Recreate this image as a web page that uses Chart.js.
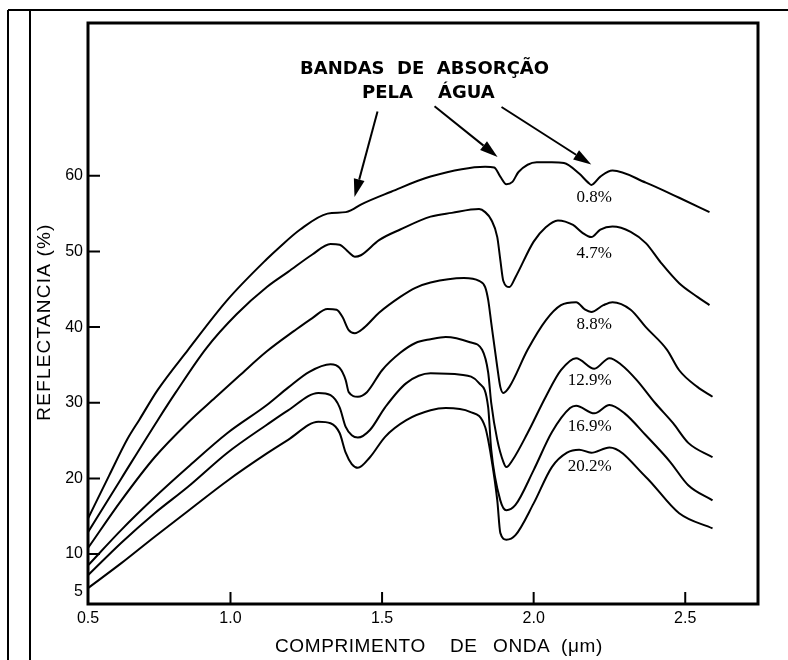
<!DOCTYPE html>
<html>
<head>
<meta charset="utf-8">
<script src="https://cdn.jsdelivr.net/npm/chart.js@4.4.1/dist/chart.umd.min.js"></script>
<style>
  html, body { margin: 0; padding: 0; background: #fff; }
  canvas { display: block; }
</style>
</head>
<body>
<canvas id="chart" width="788" height="660"></canvas>
<script>
// Soil reflectance spectra (0.5–2.6 µm) at six moisture contents.

const moisture = ['0.8%', '4.7%', '8.8%', '12.9%', '16.9%', '20.2%'];

// wavelength (µm) and reflectance (%) for each moisture content
const wl08 = [0.53, 0.60, 0.66, 0.70, 0.76, 0.86, 0.99, 1.12, 1.16, 1.23, 1.32, 1.38, 1.40, 1.43, 1.53, 1.66, 1.84, 1.87, 1.89, 1.91, 1.93, 1.95, 2.01, 2.06, 2.10, 2.15, 2.18, 2.19, 2.22, 2.26, 2.37, 2.48, 2.58];
const r08  = [14.7, 20.4, 25.2, 27.8, 31.7, 37.0, 43.6, 49.0, 50.5, 52.9, 55.0, 55.2, 55.5, 56.2, 57.9, 59.9, 61.2, 61.1, 59.9, 58.9, 59.2, 60.5, 61.8, 61.8, 61.7, 60.3, 59.1, 58.8, 59.9, 60.7, 59.1, 57.1, 55.2];

const wl47 = [0.53, 0.64, 0.76, 0.82, 0.92, 1.02, 1.12, 1.19, 1.27, 1.33, 1.36, 1.39, 1.41, 1.43, 1.49, 1.56, 1.66, 1.73, 1.82, 1.84, 1.86, 1.88, 1.89, 1.90, 1.92, 1.94, 2.00, 2.04, 2.08, 2.13, 2.16, 2.19, 2.22, 2.26, 2.32, 2.37, 2.42, 2.48, 2.54, 2.58];
const r47  = [12.9, 20.0, 27.7, 31.4, 37.2, 41.7, 45.3, 47.3, 49.6, 51.0, 50.9, 49.9, 49.3, 49.5, 51.5, 52.9, 54.6, 55.1, 55.6, 55.2, 54.2, 51.9, 48.9, 46.1, 45.3, 46.6, 51.3, 53.2, 54.1, 53.5, 52.5, 51.9, 52.9, 53.3, 52.6, 51.1, 48.5, 45.8, 44.0, 42.9];

const wl88 = [0.53, 0.64, 0.75, 0.86, 0.95, 1.03, 1.12, 1.21, 1.27, 1.32, 1.35, 1.37, 1.39, 1.41, 1.44, 1.49, 1.56, 1.61, 1.66, 1.77, 1.82, 1.84, 1.85, 1.86, 1.88, 1.89, 1.90, 1.92, 1.98, 2.04, 2.09, 2.14, 2.17, 2.19, 2.23, 2.26, 2.32, 2.37, 2.44, 2.48, 2.54, 2.59];
const r88  = [10.8, 17.1, 22.8, 27.4, 30.7, 33.6, 36.8, 39.5, 41.2, 42.4, 42.3, 41.3, 39.6, 39.2, 39.9, 41.9, 44.0, 45.2, 45.9, 46.5, 46.1, 45.3, 43.6, 40.6, 34.7, 32.1, 31.3, 32.1, 37.0, 40.9, 42.9, 43.3, 42.3, 42.0, 42.9, 43.3, 42.3, 40.0, 37.0, 34.3, 32.1, 30.8];

const wl129 = [0.53, 0.64, 0.75, 0.86, 0.99, 1.12, 1.19, 1.26, 1.33, 1.36, 1.38, 1.39, 1.42, 1.45, 1.50, 1.56, 1.61, 1.66, 1.71, 1.79, 1.83, 1.85, 1.86, 1.88, 1.90, 1.91, 1.93, 1.98, 2.04, 2.09, 2.14, 2.20, 2.25, 2.29, 2.34, 2.40, 2.46, 2.51, 2.59];
const r129  = [8.5, 13.2, 17.5, 21.5, 26.0, 29.7, 32.0, 34.1, 35.1, 34.6, 33.0, 31.4, 30.8, 31.4, 34.3, 36.6, 37.9, 38.4, 38.7, 38.0, 37.0, 34.0, 30.0, 25.1, 22.2, 21.5, 22.4, 26.0, 30.8, 34.3, 35.9, 34.5, 35.9, 35.0, 33.0, 30.0, 27.3, 24.7, 22.8];

const wl169 = [0.53, 0.64, 0.75, 0.86, 0.99, 1.12, 1.19, 1.29, 1.33, 1.36, 1.38, 1.40, 1.42, 1.46, 1.51, 1.58, 1.66, 1.76, 1.82, 1.85, 1.86, 1.89, 1.91, 1.94, 2.00, 2.06, 2.12, 2.14, 2.20, 2.25, 2.30, 2.37, 2.45, 2.51, 2.59];
const r169  = [7.2, 11.5, 15.4, 18.9, 23.4, 27.1, 29.0, 31.3, 31.0, 29.4, 26.8, 25.7, 25.4, 26.4, 29.4, 32.6, 33.9, 33.7, 32.6, 29.4, 23.8, 17.1, 15.8, 16.5, 21.1, 26.1, 29.3, 29.6, 28.6, 29.7, 28.6, 25.7, 22.2, 19.1, 17.1];

const wl202 = [0.53, 0.64, 0.75, 0.86, 0.99, 1.12, 1.19, 1.29, 1.33, 1.36, 1.38, 1.40, 1.42, 1.46, 1.51, 1.58, 1.66, 1.71, 1.79, 1.84, 1.86, 1.88, 1.89, 1.91, 1.94, 2.00, 2.06, 2.11, 2.15, 2.19, 2.25, 2.37, 2.48, 2.59];
const r202  = [5.5, 8.8, 12.3, 15.7, 19.7, 23.3, 25.1, 27.5, 27.3, 26.0, 23.4, 21.9, 21.4, 22.8, 25.5, 27.7, 29.0, 29.3, 28.8, 26.8, 22.8, 17.1, 12.8, 11.9, 12.5, 16.7, 21.5, 23.4, 23.8, 23.4, 24.1, 20.2, 15.4, 13.4];

const wavelengths = [wl08, wl47, wl88, wl129, wl169, wl202];
const reflectance = [r08, r47, r88, r129, r169, r202];

// axis ticks; the first entry of each marks the axis origin corner
const xTicks = [0.5, 1.0, 1.5, 2.0, 2.5];
const yTicks = [5, 10, 20, 30, 40, 50, 60];

// where each moisture label sits (wavelength, reflectance)
const labelWl = [2.20, 2.20, 2.20, 2.185, 2.185, 2.185];
const labelR  = [57.1, 49.7, 40.4, 32.9, 26.9, 21.6];

// arrows pointing at the water absorption bands (tail -> tip, in data units)
const arrows = [
  { from: [1.485, 68.5], to: [1.409, 57.2] },
  { from: [1.673, 69.2], to: [1.881, 62.5] },
  { from: [1.894, 69.1], to: [2.190, 61.5] }
];

const datasets = moisture.map((m, k) => ({
  label: m,
  data: wavelengths[k].map((w, i) => ({ x: w, y: reflectance[k][i] })),
  borderColor: '#000',
  borderWidth: 2,
  pointRadius: 0,
  fill: false,
  cubicInterpolationMode: 'monotone'
}));

function drawArrow(ctx, x1, y1, x2, y2) {
  const a = Math.atan2(y2 - y1, x2 - x1);
  const L = 18, W = 5.5;
  const bx = x2 - L * Math.cos(a), by = y2 - L * Math.sin(a);
  ctx.lineWidth = 2;
  ctx.beginPath();
  ctx.moveTo(x1, y1);
  ctx.lineTo(bx, by);
  ctx.stroke();
  ctx.beginPath();
  ctx.moveTo(x2, y2);
  ctx.lineTo(bx + W * Math.sin(a), by - W * Math.cos(a));
  ctx.lineTo(bx - W * Math.sin(a), by + W * Math.cos(a));
  ctx.closePath();
  ctx.fill();
}

const decor = {
  id: 'decor',
  afterDraw(chart) {
    const { ctx, chartArea: a, scales: { x, y } } = chart;
    ctx.save();
    ctx.strokeStyle = '#000';
    ctx.fillStyle = '#000';

    // page rules
    ctx.lineWidth = 2;
    ctx.beginPath();
    ctx.moveTo(8, 10); ctx.lineTo(788, 10);
    ctx.moveTo(8, 10); ctx.lineTo(8, 660);
    ctx.moveTo(30, 10); ctx.lineTo(30, 660);
    ctx.stroke();

    // plot frame
    ctx.lineWidth = 3;
    ctx.strokeRect(a.left, a.top, a.right - a.left, a.bottom - a.top);

    // inward tick marks (skip the origin corner)
    ctx.lineWidth = 2;
    ctx.beginPath();
    x.ticks.forEach((t, i) => {
      if (i === 0) return;
      const px = x.getPixelForValue(t.value);
      ctx.moveTo(px, a.bottom);
      ctx.lineTo(px, a.bottom - 12);
    });
    y.ticks.forEach((t, i) => {
      if (i === 0) return;
      const py = y.getPixelForValue(t.value);
      ctx.moveTo(a.left, py);
      ctx.lineTo(a.left + 12, py);
    });
    ctx.stroke();

    // axis titles
    ctx.font = '19px "Liberation Sans"';
    ctx.textBaseline = 'alphabetic';
    ctx.textAlign = 'left';
    ctx.letterSpacing = '0.6px';
    ctx.fillText('COMPRIMENTO', 275, 652);
    ctx.fillText('DE', 450, 652);
    ctx.fillText('ONDA', 493, 652);
    ctx.fillText('(\u03bcm)', 561, 652);
    ctx.save();
    ctx.translate(49.5, 322);
    ctx.rotate(-Math.PI / 2);
    ctx.textAlign = 'center';
    ctx.letterSpacing = '1.2px';
    ctx.fillText('REFLECTANCIA (%)', 0, 0);
    ctx.restore();
    ctx.letterSpacing = '0px';

    // moisture labels
    ctx.font = '17px "Liberation Serif"';
    ctx.textAlign = 'center';
    ctx.textBaseline = 'middle';
    moisture.forEach((m, k) => {
      ctx.fillText(m, x.getPixelForValue(labelWl[k]), y.getPixelForValue(labelR[k]));
    });

    // absorption band heading
    ctx.font = 'bold 18px "DejaVu Sans"';
    ctx.textAlign = 'left';
    ctx.textBaseline = 'alphabetic';
    ctx.fillText('BANDAS  DE  ABSOR\u00c7\u00c3O', 300, 74);
    ctx.fillText('PELA    \u00c1GUA', 362, 98);

    arrows.forEach(ar => {
      drawArrow(ctx,
        x.getPixelForValue(ar.from[0]), y.getPixelForValue(ar.from[1]),
        x.getPixelForValue(ar.to[0]), y.getPixelForValue(ar.to[1]));
    });
    ctx.restore();
  }
};

new Chart(document.getElementById('chart'), {
  type: 'line',
  data: { datasets },
  options: {
    responsive: false,
    animation: false,
    layout: { padding: { top: 23, right: 30, left: 0, bottom: 0 } },
    plugins: { legend: { display: false }, tooltip: { enabled: false } },
    scales: {
      x: {
        type: 'linear',
        min: 0.53,
        max: 2.74,
        grid: { display: false, drawTicks: false },
        border: { display: false },
        afterBuildTicks: s => { s.ticks = xTicks.map(v => ({ value: Math.max(v, s.min) })); },
        afterFit: s => { s.height = 56; },
        ticks: {
          padding: 5,
          color: '#000',
          autoSkip: false,
          maxRotation: 0,
          font: { size: 16, family: 'Liberation Sans' },
          callback: (v, i) => xTicks[i].toFixed(1)
        }
      },
      y: {
        type: 'linear',
        min: 3.4,
        max: 80.2,
        grid: { display: false, drawTicks: false },
        border: { display: false },
        afterBuildTicks: s => { s.ticks = yTicks.map(v => ({ value: v })); },
        afterFit: s => { s.width = 88; },
        ticks: {
          padding: 5,
          color: '#000',
          autoSkip: false,
          font: { size: 16, family: 'Liberation Sans' },
          callback: (v, i) => String(yTicks[i])
        }
      }
    }
  },
  plugins: [decor]
});
</script>
</body>
</html>
